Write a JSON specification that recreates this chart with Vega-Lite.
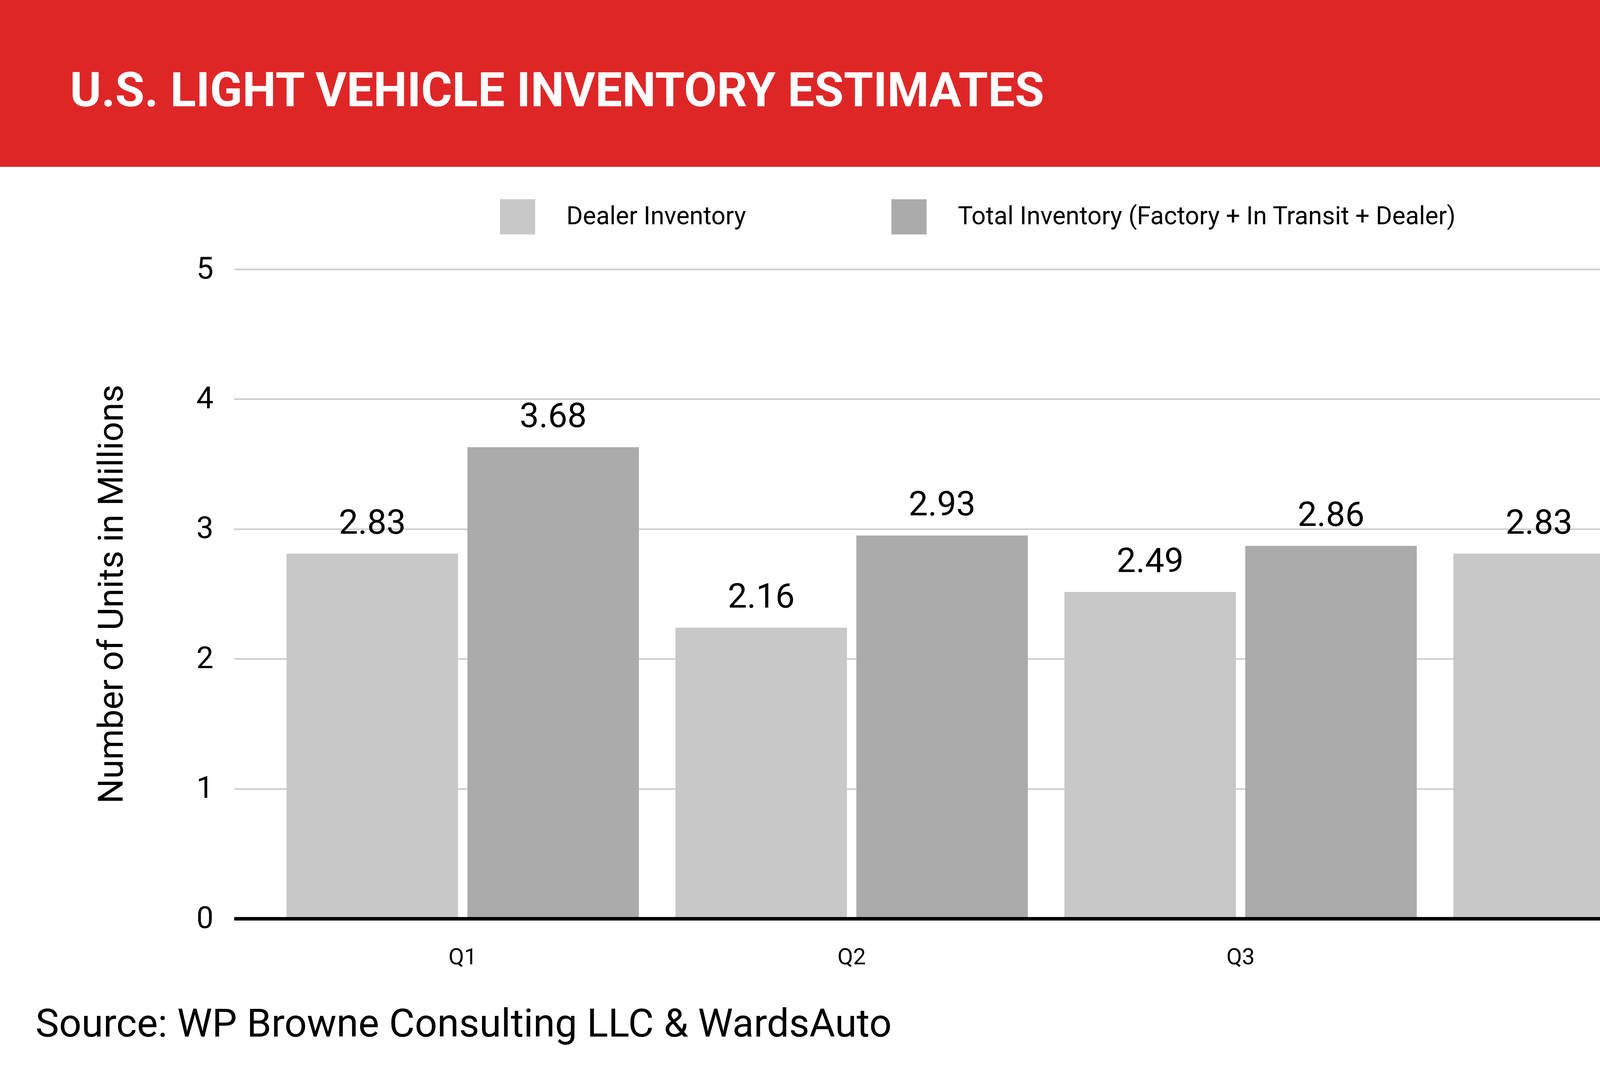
{
  "$schema": "https://vega.github.io/schema/vega-lite/v6.json",
  "width": 4121,
  "height": 1662,
  "autosize": {"type": "none"},
  "padding": {"left": 599, "top": 689, "right": 280, "bottom": 408},
  "background": "white",
  "config": {
    "font": "Roboto",
    "view": {"stroke": null}
  },
  "title": {
    "text": "Source: WP Browne Consulting LLC & WardsAuto",
    "orient": "bottom",
    "anchor": "start",
    "frame": "group",
    "dx": -508,
    "offset": 94,
    "fontSize": 101,
    "fontWeight": "normal",
    "color": "black"
  },
  "resolve": {"scale": {"x": "independent", "y": "independent"}},
  "layer": [
    {
      "data": {"values": [{"part": "header", "title": "U.S. LIGHT VEHICLE INVENTORY ESTIMATES", "l": "L", "x": "X"}]},
      "encoding": {
        "x": {"datum": 0, "type": "quantitative", "scale": {"domain": [0, 1], "nice": false, "zero": false}, "axis": null},
        "y": {"datum": 5, "type": "quantitative", "scale": {"domain": [0, 5], "nice": false, "zero": false}, "axis": null}
      },
      "layer": [
        {
          "mark": {"type": "point", "shape": "M -599 -689 L 4401 -689 L 4401 -262 L -599 -262 Z", "size": 4, "filled": true, "fill": "#df2627", "strokeWidth": 0, "opacity": 1}
        },
        {
          "mark": {"type": "text", "align": "left", "baseline": "alphabetic", "dx": -420, "dy": -417, "fontSize": 122, "fontWeight": "bold", "color": "white"},
          "encoding": {"text": {"field": "title"}}
        },
        {
          "mark": {"type": "point", "shape": "M 4066 -612 L 4294 -612 L 4233 -347 L 4005 -347 Z", "size": 4, "filled": false, "stroke": "white", "strokeWidth": 10, "opacity": 1}
        },
        {
          "mark": {"type": "text", "align": "center", "baseline": "alphabetic", "dx": 4117, "dy": -455, "fontSize": 160, "font": "Liberation Sans Narrow, DejaVu Sans Condensed, Roboto", "fontStyle": "italic", "color": "white"},
          "encoding": {"text": {"field": "l"}}
        },
        {
          "mark": {"type": "text", "align": "center", "baseline": "alphabetic", "dx": 4169, "dy": -399, "fontSize": 160, "font": "Liberation Sans Narrow, DejaVu Sans Condensed, Roboto", "fontStyle": "italic", "color": "white"},
          "encoding": {"text": {"field": "x"}}
        }
      ]
    },
    {
      "data": {
        "values": [
          {"quarter": "Q1", "series": "Dealer Inventory", "units": 2.81, "label": "2.83"},
          {"quarter": "Q1", "series": "Total Inventory (Factory + In Transit + Dealer)", "units": 3.63, "label": "3.68"},
          {"quarter": "Q2", "series": "Dealer Inventory", "units": 2.24, "label": "2.16"},
          {"quarter": "Q2", "series": "Total Inventory (Factory + In Transit + Dealer)", "units": 2.95, "label": "2.93"},
          {"quarter": "Q3", "series": "Dealer Inventory", "units": 2.515, "label": "2.49"},
          {"quarter": "Q3", "series": "Total Inventory (Factory + In Transit + Dealer)", "units": 2.87, "label": "2.86"},
          {"quarter": "Q4", "series": "Dealer Inventory", "units": 2.81, "label": "2.83"},
          {"quarter": "Q4", "series": "Total Inventory (Factory + In Transit + Dealer)", "units": 3.08, "label": "3.06"}
        ]
      },
      "encoding": {
        "x": {
          "field": "quarter",
          "type": "nominal",
          "scale": {"paddingInner": 0.094, "paddingOuter": 0.1165, "align": 0.58},
          "axis": {
            "orient": "bottom",
            "title": null,
            "labelAngle": 0,
            "labelFontSize": 58,
            "labelColor": "black",
            "labelPadding": 70,
            "ticks": false,
            "tickSize": 0,
            "domainColor": "black",
            "domainWidth": 9,
            "zindex": 1
          }
        },
        "xOffset": {
          "field": "series",
          "type": "nominal",
          "scale": {"paddingInner": 0.052, "paddingOuter": 0}
        },
        "y": {
          "field": "units",
          "type": "quantitative",
          "scale": {"domain": [0, 5]},
          "axis": {
            "orient": "left",
            "title": "Number of Units in Millions",
            "titleFontSize": 89,
            "titleFontWeight": "normal",
            "titleColor": "black",
            "titlePadding": 170,
            "values": [0, 1, 2, 3, 4, 5],
            "labelFontSize": 78,
            "labelColor": "black",
            "labelPadding": 53,
            "ticks": false,
            "tickSize": 0,
            "domain": false,
            "grid": true,
            "gridColor": "#cccccc",
            "gridWidth": 4
          }
        }
      },
      "layer": [
        {
          "mark": {"type": "bar"},
          "encoding": {
            "color": {
              "field": "series",
              "type": "nominal",
              "scale": {"range": ["#c8c8c8", "#ababab"]},
              "legend": {
                "title": null,
                "orient": "none",
                "legendX": 681,
                "legendY": -179,
                "direction": "horizontal",
                "symbolType": "square",
                "symbolSize": 8100,
                "symbolStrokeWidth": 0,
                "symbolOpacity": 1,
                "labelFontSize": 64,
                "labelColor": "black",
                "labelOffset": 80,
                "labelLimit": 0,
                "columnPadding": 372
              }
            }
          }
        },
        {
          "mark": {"type": "text", "baseline": "alphabetic", "dy": -51, "fontSize": 88, "color": "black"},
          "encoding": {"text": {"field": "label"}}
        }
      ]
    }
  ]
}
